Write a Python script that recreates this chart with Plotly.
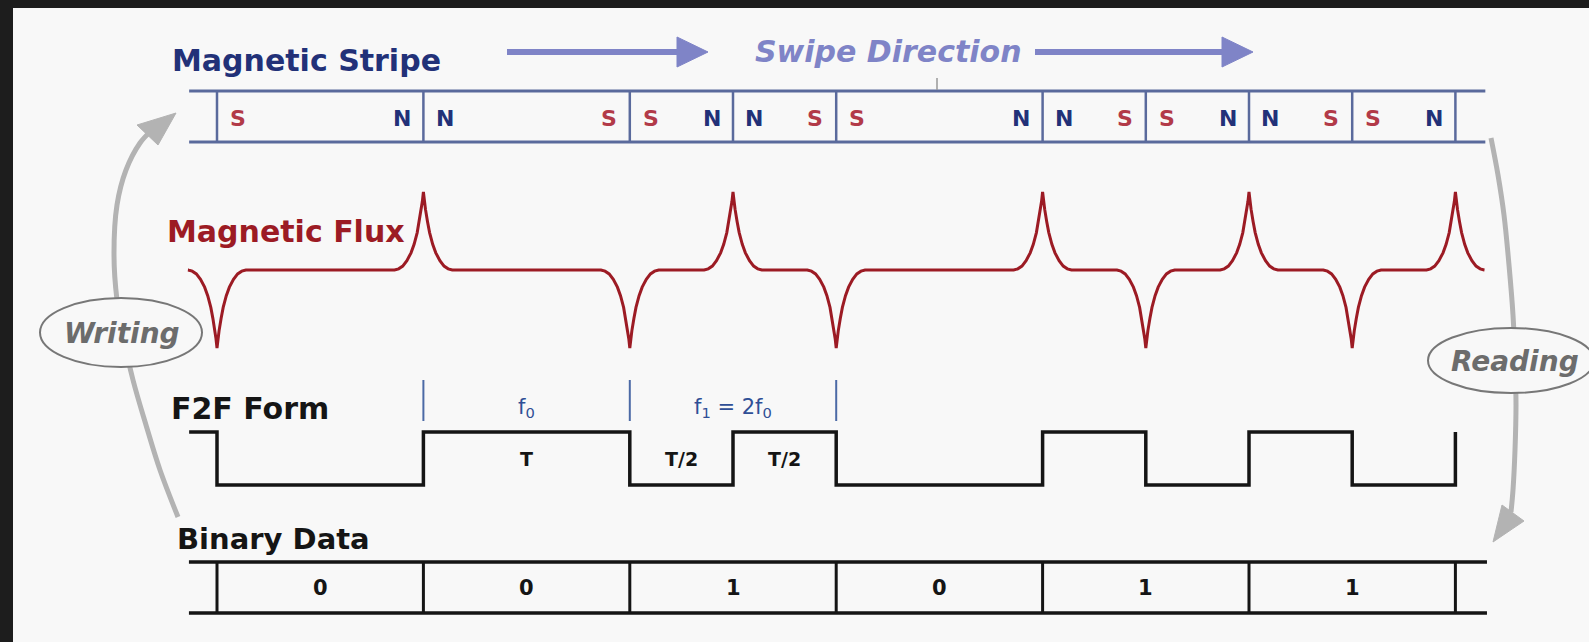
import plotly.graph_objects as go

# ---------------- data ----------------
bits = [0, 0, 1, 0, 1, 1]
edges = [0, 1, 2, 2.5, 3, 4, 4.5, 5, 5.5, 6]           # flux reversals (bit units)
flux_sign = [-1, 1, -1, 1, -1, 1, -1, 1, -1, 1]        # dip / peak at each reversal
f2f_levels = [0, 1, 0, 1, 0, 1, 0, 1, 0, 1]             # F2F level after each edge
f2f_start = 1
stripe_left = ["S", "N", "S", "N", "S", "N", "S", "N", "S"]
stripe_right = ["N", "S", "N", "S", "N", "S", "N", "S", "N"]
f2f_marks = [1, 2, 3]
freq_labels = ["f<sub>0</sub>", "f<sub>1</sub> = 2f<sub>0</sub>"]
freq_pos = [1.5, 2.5]
dur_labels = ["T", "T/2", "T/2"]
dur_pos = [1.5, 2.25, 2.75]
# pulse profile (distance from reversal, relative height)
pulse_dx = [0, 0.005, 0.01, 0.02, 0.03, 0.045, 0.06, 0.08, 0.1, 0.12, 0.14]
pulse_amp = [1, 0.88, 0.78, 0.62, 0.48, 0.33, 0.22, 0.12, 0.05, 0.015, 0]

# ---------------- layout constants ----------------
W, H = 1589, 642
ORIGIN_PX, BIT_PX = 217.0, 206.4
def ux(px):
    return (px - ORIGIN_PX) / BIT_PX

X_LEFT, X_RIGHT = -0.135, 6.145
STRIPE_TOP, STRIPE_BOT, STRIPE_MID = 91, 142, 117
FLUX_BASE, FLUX_AMP = 270, 78
F2F_HI, F2F_LO = 432, 485
BIN_TOP, BIN_BOT, BIN_MID = 562, 613, 588

FONT = "DejaVu Sans"
NAVY = "#223178"
RED = "#9c1b24"
SRED = "#b23a48"
BG = "#f8f8f8"
GRAYA = "#b3b3b3"

fig = go.Figure()
shapes = []
ann = []

def line(x0, y0, x1, y1, color, width, layer="above"):
    shapes.append(dict(type="line", x0=x0, y0=y0, x1=x1, y1=y1, xref="x", yref="y",
                       line=dict(color=color, width=width), layer=layer))

def text(x, y, s, size, color, xanchor="center", yanchor="middle", xref="x", yref="y"):
    ann.append(dict(x=x, y=y, xref=xref, yref=yref, text=s, showarrow=False,
                    xanchor=xanchor, yanchor=yanchor,
                    font=dict(family=FONT, size=size, color=color)))

# dark frame (top & left)
shapes.append(dict(type="rect", xref="paper", yref="paper", x0=0, x1=13 / W, y0=0, y1=1,
                   fillcolor="#1d1d1d", line=dict(width=0), layer="below"))
shapes.append(dict(type="rect", xref="paper", yref="paper", x0=0, x1=1, y0=1 - 8 / H, y1=1,
                   fillcolor="#1d1d1d", line=dict(width=0), layer="below"))

# ---------------- gray writing / reading arcs ----------------
left_arc = [(178, 517), (160, 470), (146, 425), (133, 380), (124, 340), (117, 300),
            (114, 255), (117, 205), (126, 170), (140, 143), (152, 130)]
right_arc = [(1491, 138), (1498, 175), (1504, 215), (1509, 265), (1513, 315), (1515, 360),
             (1516, 405), (1515, 450), (1513, 490), (1511, 512)]
for arc in (left_arc, right_arc):
    fig.add_trace(go.Scatter(x=[ux(p[0]) for p in arc], y=[p[1] for p in arc], mode="lines",
                             line=dict(color=GRAYA, width=5, shape="spline"),
                             hoverinfo="skip"))
for tri in ([(176, 113), (137, 125), (158, 145)], [(1493, 542), (1502, 505), (1524, 521)]):
    fig.add_trace(go.Scatter(x=[ux(p[0]) for p in tri] + [ux(tri[0][0])],
                             y=[p[1] for p in tri] + [tri[0][1]], mode="lines", fill="toself",
                             fillcolor=GRAYA, line=dict(color=GRAYA, width=1), hoverinfo="skip"))

# ---------------- magnetic stripe ----------------
SCOL = "#5a6a9c"
line(X_LEFT, STRIPE_TOP, X_RIGHT, STRIPE_TOP, SCOL, 3)
line(X_LEFT, STRIPE_BOT, X_RIGHT, STRIPE_BOT, SCOL, 3)
for e in edges:
    line(e, STRIPE_TOP, e, STRIPE_BOT, SCOL, 2.5)
off = 0.103
for i in range(len(edges) - 1):
    a, b = edges[i], edges[i + 1]
    for x, s in ((a + off, stripe_left[i]), (b - off, stripe_right[i])):
        text(x, STRIPE_MID + 1, "<b>%s</b>" % s, 22, SRED if s == "S" else NAVY)
line(ux(937), 78, ux(937), 90, "#999999", 1.5)

# swipe arrows
PUR = "#7f84c7"
for x0, tip in ((507, 708), (1035, 1253)):
    line(ux(x0), 52, ux(tip - 20), 52, PUR, 6)
    fig.add_trace(go.Scatter(x=[ux(tip - 31), ux(tip), ux(tip - 31), ux(tip - 31)],
                             y=[37, 52, 67, 37], mode="lines", fill="toself",
                             fillcolor=PUR, line=dict(color=PUR, width=1), hoverinfo="skip"))

# ---------------- magnetic flux ----------------
fx, fy = [X_LEFT], [FLUX_BASE]
for e, s in zip(edges, flux_sign):
    for d, a in zip(reversed(pulse_dx), reversed(pulse_amp)):
        fx.append(e - d); fy.append(FLUX_BASE - s * FLUX_AMP * a)
    for d, a in zip(pulse_dx[1:], pulse_amp[1:]):
        fx.append(e + d); fy.append(FLUX_BASE - s * FLUX_AMP * a)
fx.append(X_RIGHT - 0.01); fy.append(FLUX_BASE)
fig.add_trace(go.Scatter(x=fx, y=fy, mode="lines", line=dict(color=RED, width=3),
                         hoverinfo="skip"))

# ---------------- F2F form ----------------
lvl = lambda v: F2F_HI if v else F2F_LO
sx, sy = [X_LEFT], [lvl(f2f_start)]
cur = f2f_start
for e, v in zip(edges, f2f_levels):
    sx += [e, e]; sy += [lvl(cur), lvl(v)]
    cur = v
fig.add_trace(go.Scatter(x=sx, y=sy, mode="lines", line=dict(color="#151515", width=3.5),
                         hoverinfo="skip"))
for m in f2f_marks:
    line(m, 380, m, 421, "#4c6aa6", 2)
for s, x in zip(freq_labels, freq_pos):
    text(x, 408, s, 21, "#2f4f96")
for s, x in zip(dur_labels, dur_pos):
    text(x, 459, "<b>%s</b>" % s, 19, "#151515")

# ---------------- binary data ----------------
line(-0.136, BIN_TOP, 6.153, BIN_TOP, "#151515", 3.5)
line(-0.136, BIN_BOT, 6.153, BIN_BOT, "#151515", 3.5)
for k in range(len(bits) + 1):
    line(k, BIN_TOP, k, BIN_BOT, "#151515", 3)
for k, b in enumerate(bits):
    text(k + 0.5, BIN_MID, "<b>%d</b>" % b, 21, "#151515")

# ---------------- labels ----------------
text(ux(170), 60, "<b>Magnetic Stripe</b>", 30, NAVY, xanchor="left")
text(ux(753), 51, "<b><i>Swipe Direction</i></b>", 30, PUR, xanchor="left")
text(ux(165), 231, "<b>Magnetic Flux</b>", 30, RED, xanchor="left")
text(ux(169), 408, "<b>F2F Form</b>", 30, "#151515", xanchor="left")
text(ux(175), 539, "<b>Binary Data</b>", 29, "#151515", xanchor="left")

# ellipses
shapes.append(dict(type="circle", xref="x", yref="y", x0=ux(40), x1=ux(202), y0=298, y1=367,
                   fillcolor=BG, line=dict(color="#777777", width=2), layer="above"))
shapes.append(dict(type="circle", xref="x", yref="y", x0=ux(1428), x1=ux(1594), y0=328, y1=393,
                   fillcolor=BG, line=dict(color="#777777", width=2), layer="above"))
text(ux(122), 333, "<b><i>Writing</i></b>", 28, "#6c6c6c")
text(ux(1515), 361, "<b><i>Reading</i></b>", 28, "#6c6c6c")

fig.update_layout(
    width=W, height=H, margin=dict(l=0, r=0, t=0, b=0),
    paper_bgcolor=BG, plot_bgcolor="rgba(0,0,0,0)", showlegend=False,
    xaxis=dict(range=[ux(0), ux(W)], visible=False, fixedrange=True),
    yaxis=dict(range=[H, 0], visible=False, fixedrange=True),
    shapes=shapes, annotations=ann,
)
fig.write_html("out.html", config={"displayModeBar": False},
               post_script="document.body.style.margin='0px';document.body.style.overflow='hidden';")
